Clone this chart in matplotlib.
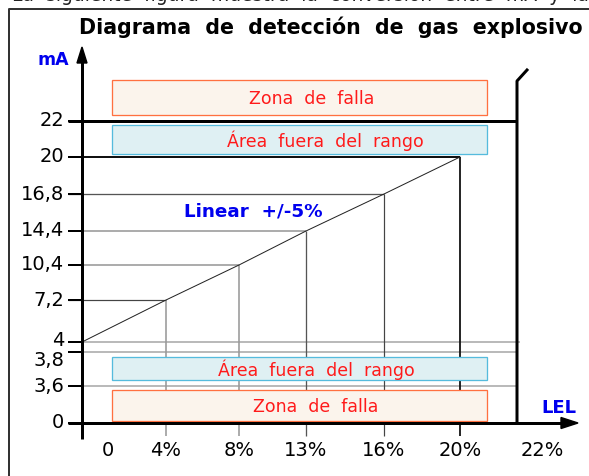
import matplotlib.pyplot as plt
from matplotlib.patches import Rectangle, Polygon

# chart values
lel_values = [0, 4, 8, 13, 16, 20]
ma_values = [4, 7.2, 10.4, 14.4, 16.8, 20]
lel_labels = ["0", "4%", "8%", "13%", "16%", "20%", "22%"]
ma_labels = ["0", "3,6", "3,8", "4", "7,2", "10,4", "14,4", "16,8", "20", "22"]
ma_ticks = [0, 3.6, 3.8, 4, 7.2, 10.4, 14.4, 16.8, 20, 22]
zones = ["Zona de falla", "Área fuera del rango", "Área fuera del rango", "Zona de falla"]

# layout (pixel positions of the schematic, not data)
W, H = 589, 476
x0, y0 = 82, 423          # axis origin
lel_pos = [82, 166, 239, 306, 384, 460]
lel_label_pos = [108, 166, 239, 306, 384, 460, 542]
ma_pos = [423, 386, 352, 342, 300, 265, 231, 194, 157, 121]
ma_label_pos = [423, 386, 360, 340, 300, 265, 231, 194, 157, 121]
x_end = 517               # thick vertical line (22%)

fig = plt.figure(figsize=(W / 100, H / 100), dpi=100)
ax = fig.add_axes([0, 0, 1, 1])
ax.set_xlim(0, W)
ax.set_ylim(H, 0)
ax.axis("off")

px = 0.72  # one pixel in points

# cropped caption line at the top and the frame
ax.text(12, 1.2, "La  siguiente  figura  muestra  la  conversión  entre  mA  y  la",
        fontsize=13.5, va="baseline", ha="left", color="#222222")
ax.plot([9, 9, W], [H, 9, 9], color="#333333", lw=2 * px, solid_capstyle="butt")

ax.text(331, 27, "Diagrama  de  detección  de  gas  explosivo", fontsize=14.8,
        fontweight="bold", ha="center", va="center")

# zone boxes
box_y = [(80, 115), (125, 154), (357, 380), (390, 421)]
box_text_x = [312, 325, 316, 316]
box_style = [("#fbf4ec", "#ff7040"), ("#dff0f3", "#55bbdd"),
             ("#dff0f3", "#55bbdd"), ("#fbf4ec", "#ff7040")]
for label, (ya, yb), tx, (fc, ec) in zip(zones, box_y, box_text_x, box_style):
    ax.add_patch(Rectangle((112, ya), 375, yb - ya, facecolor=fc,
                           edgecolor=ec, lw=1.3 * px, zorder=2))
    ax.text(tx, (ya + yb) / 2 + 1, label.replace(" ", "  "), color="#ff1a1a",
            fontsize=12.5, ha="center", va="center", zorder=3)

# horizontal reference lines for each mA tick
h_end = {3.6: x_end, 3.8: x_end, 4: x_end + 3, 22: x_end}
h_style = {0: None, 3.6: ("#aaaaaa", 1.6), 3.8: ("#aaaaaa", 1.6),
           4: ("#aaaaaa", 1.6), 7.2: ("#444444", 1.2), 10.4: ("#999999", 1.6),
           14.4: ("#999999", 1.6), 16.8: ("#555555", 1.3), 20: ("#111111", 2),
           22: ("#000000", 3)}
for v, yp in zip(ma_ticks, ma_pos):
    style = h_style[v]
    if v in ma_values[1:]:
        xe = lel_pos[ma_values.index(v)]
    else:
        xe = h_end.get(v, x0)
    if style is not None:
        ax.plot([68, xe], [yp, yp], color=style[0], lw=style[1] * px, zorder=1,
                solid_capstyle="butt")

# vertical reference lines for each LEL value
v_style = [("#999999", 1.6), ("#999999", 1.6), ("#555555", 1.3),
           ("#444444", 1.2), ("#111111", 1.8)]
for xp, yv, (c, lw) in zip(lel_pos[1:], ma_values[1:], v_style):
    yp = ma_pos[ma_ticks.index(yv)]
    ax.plot([xp, xp], [yp, 436], color=c, lw=lw * px, zorder=1,
            solid_capstyle="butt")

# linear transfer line
ax.plot(lel_pos, [ma_pos[ma_ticks.index(v)] for v in ma_values],
        color="#222222", lw=1 * px, zorder=3)

# short tick marks at left of axis
for yp in ma_pos:
    ax.plot([68, x0], [yp, yp], color="#000000", lw=2 * px, zorder=4,
            solid_capstyle="butt")

# thick vertical line at 22% with broken top
ax.plot([x_end, x_end, 527], [y0, 81, 70], color="#000000", lw=3 * px, zorder=4)

# axes with arrows
ax.plot([x0, x0], [439, 60], color="#000000", lw=3 * px, zorder=5,
        solid_capstyle="butt")
ax.add_patch(Polygon([[x0 - 5, 63], [x0, 47], [x0 + 5, 63]], closed=True,
                     color="#000000", zorder=5))
ax.plot([68, 564], [y0, y0], color="#000000", lw=3 * px, zorder=5,
        solid_capstyle="butt")
ax.add_patch(Polygon([[561, y0 - 5.5], [578, y0], [561, y0 + 5.5]], closed=True,
                     color="#000000", zorder=5))

# tick labels
for lab, yp in zip(ma_labels, ma_label_pos):
    ax.text(64, yp, lab, fontsize=14, ha="right", va="center")
for lab, xp in zip(lel_labels, lel_label_pos):
    ax.text(xp, 451, lab, fontsize=14, ha="center", va="center")

ax.text(53, 60, "mA", color="#0000ee", fontsize=12.5, fontweight="bold",
        ha="center", va="center")
ax.text(559, 408, "LEL", color="#0000ee", fontsize=13, fontweight="bold",
        ha="center", va="center")
ax.text(253, 212, "Linear  +/-5%", color="#0000ee", fontsize=13.2,
        fontweight="bold", ha="center", va="center")

fig.savefig("out.png", dpi=100)
